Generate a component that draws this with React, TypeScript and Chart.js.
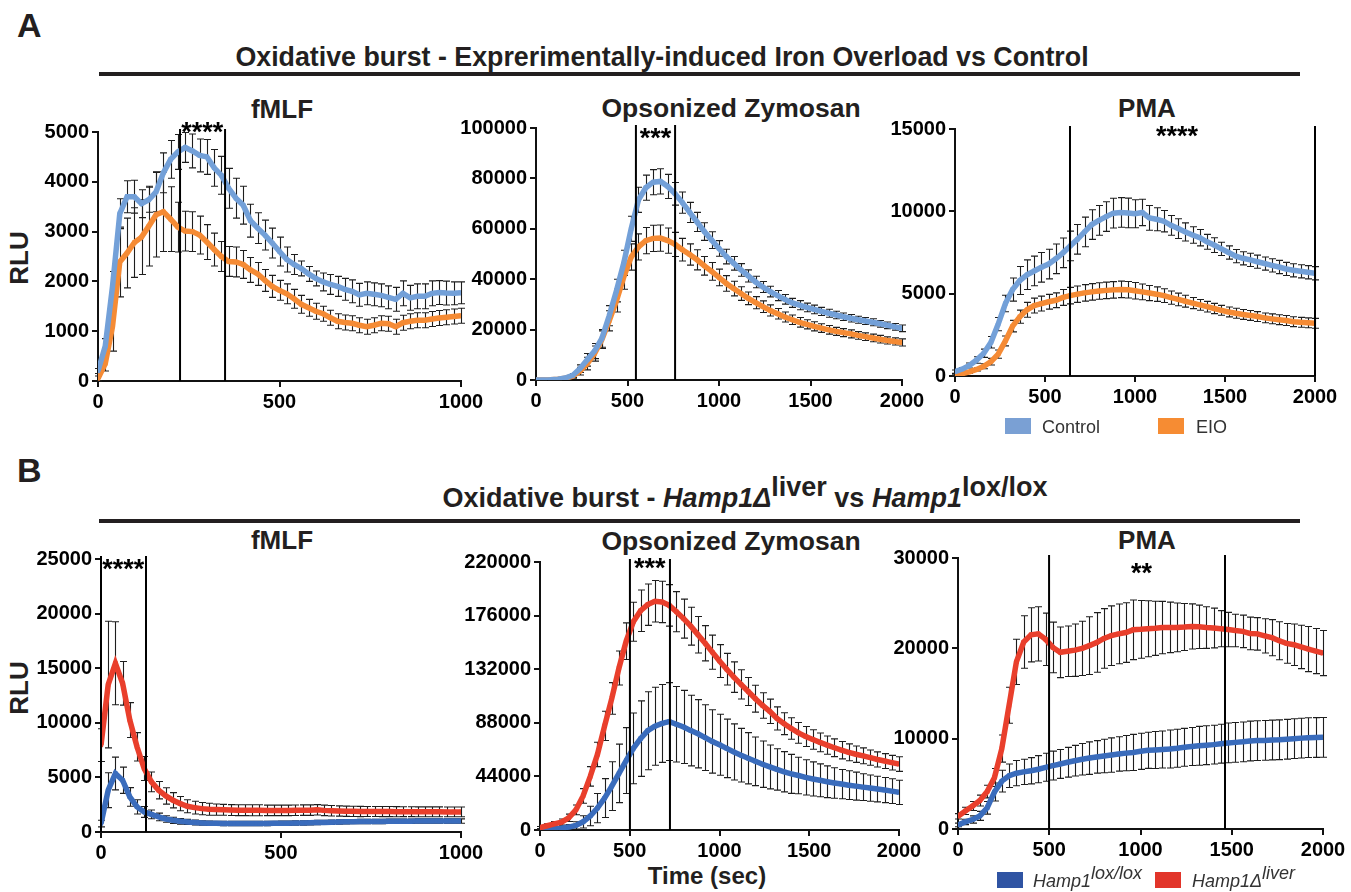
import React, { useEffect, useRef } from "react";
import { Chart, registerables } from "chart.js";

Chart.register(...registerables);

const FONT = "'Liberation Sans', Arial, Helvetica, sans-serif";
const INK = "#231f20";

// ---------- time axes (seconds) ----------
const T_1000 = [0,20,40,60,80,100,120,140,160,180,200,220,240,260,280,300,320,340,360,380,400,420,440,460,480,500,520,540,560,580,600,620,640,660,680,700,720,740,760,780,800,820,840,860,880,900,920,940,960,980,1000];
const T_2000 = [0,40,80,120,160,200,240,280,320,360,400,440,480,520,560,600,640,680,720,760,800,840,880,920,960,1000,1040,1080,1120,1160,1200,1240,1280,1320,1360,1400,1440,1480,1520,1560,1600,1640,1680,1720,1760,1800,1840,1880,1920,1960,2000];

// ---------- A: EIO vs Control ----------
const A_FMLF_CTRL = [200,700,1900,3360,3700,3700,3560,3640,3800,4180,4450,4600,4690,4620,4530,4500,4280,4130,3870,3670,3530,3220,3070,2930,2770,2600,2440,2340,2260,2150,2060,1990,1940,1900,1840,1800,1730,1760,1740,1720,1680,1640,1760,1670,1700,1700,1760,1775,1765,1760,1770];
const A_FMLF_CTRL_ERR = [50,150,300,300,320,330,280,250,400,400,380,350,300,340,330,350,370,380,400,400,380,330,310,300,300,290,250,200,150,150,150,180,200,200,220,230,230,230,230,230,230,240,250,250,250,250,250,240,240,230,220];
const A_FMLF_EIO = [50,350,1100,2390,2570,2780,2890,3110,3340,3400,3250,3090,3010,3000,2930,2790,2640,2500,2400,2390,2340,2230,2150,2020,1900,1820,1750,1650,1540,1470,1400,1350,1270,1200,1175,1160,1120,1090,1120,1160,1150,1090,1170,1200,1220,1220,1245,1265,1280,1295,1310];
const A_FMLF_EIO_ERR = [50,150,500,700,700,700,750,800,850,800,650,500,400,400,380,350,330,300,300,300,280,250,230,220,220,200,200,190,180,170,160,150,150,150,150,150,150,150,150,150,150,150,150,150,150,150,150,150,150,150,150];

const A_ZYM_CTRL = [0,0,100,300,800,1800,4500,8000,11500,16500,25500,35500,46500,60000,71500,76300,78500,78800,76800,73900,70400,66500,62700,58900,55500,52200,49000,46300,43700,41300,38900,36900,35100,33500,32000,30600,29700,28800,28000,27200,26500,25800,25100,24500,23900,23400,22900,22300,21700,21100,20500];
const A_ZYM_CTRL_ERR = [200,200,200,300,500,800,1500,2500,3000,3500,4000,4500,5000,5000,5000,5000,5000,5000,4800,4500,4200,4000,3800,3500,3300,3100,2900,2700,2500,2400,2300,2200,2100,2000,1900,1800,1800,1700,1700,1600,1600,1500,1500,1500,1400,1400,1400,1300,1300,1300,1300];
const A_ZYM_EIO = [0,0,100,300,700,1500,3500,6500,10500,16000,23500,31500,41000,48800,52800,55300,56200,56300,55300,53800,51700,49800,47700,45300,43100,40700,38300,36300,34300,32400,30700,29100,27600,26300,25000,23900,22900,22100,21300,20600,19900,19300,18800,18300,17700,17200,16700,16200,15700,15300,14900];
const A_ZYM_EIO_ERR = [200,200,200,300,500,800,1500,2500,3000,3500,4000,4500,5000,5200,5200,5200,5200,5200,5000,4800,4500,4200,4000,3700,3500,3300,3100,2900,2700,2500,2400,2300,2200,2100,2000,1900,1900,1800,1800,1700,1700,1600,1600,1600,1500,1500,1500,1500,1400,1400,1400];

const A_PMA_CTRL = [260,420,640,970,1380,2050,3150,4400,5250,5800,6150,6380,6600,6800,7120,7480,7900,8300,8750,9200,9450,9680,9890,9930,9900,9850,9930,9600,9520,9400,9150,8950,8750,8560,8400,8150,7950,7720,7500,7280,7150,7050,6940,6830,6720,6620,6500,6420,6360,6300,6240];
const A_PMA_CTRL_ERR = [100,100,150,200,250,350,400,500,700,850,900,900,900,900,900,900,900,900,900,900,900,900,900,900,900,850,800,750,700,650,600,600,550,500,500,450,450,400,400,400,400,400,400,400,400,400,400,400,400,400,400];
const A_PMA_EIO = [60,140,250,400,590,870,1330,2130,3030,3600,4020,4280,4400,4510,4600,4770,4880,4970,5050,5110,5160,5200,5230,5260,5240,5180,5110,5040,4970,4880,4760,4650,4540,4430,4320,4210,4100,3990,3890,3810,3740,3680,3610,3530,3470,3420,3370,3300,3260,3230,3200];
const A_PMA_EIO_ERR = [50,60,80,100,150,200,250,300,350,400,450,450,450,450,450,480,500,500,500,500,500,500,500,500,500,500,480,460,440,420,400,380,360,340,330,320,310,300,300,300,300,300,300,300,300,300,300,300,300,300,300];

// ---------- B: Hamp1 Δliver vs lox/lox ----------
const B_FMLF_LOX = [770,3830,5360,4740,3210,2300,1840,1620,1380,1190,1070,980,920,870,830,800,790,780,770,770,770,770,770,780,790,800,810,820,830,840,860,880,900,920,940,950,960,960,970,970,980,980,990,990,1000,1000,1000,1000,1000,1000,1000];
const B_FMLF_LOX_ERR = [300,1600,1500,1200,850,650,500,400,350,300,280,260,240,220,200,200,200,200,200,200,200,200,200,200,200,200,200,200,200,200,200,200,200,200,200,200,200,200,200,200,200,200,200,200,200,200,200,200,200,200,200];
const B_FMLF_DEL = [7960,13500,15450,13620,10250,7800,5810,4590,3830,3300,2910,2600,2360,2230,2140,2080,2050,2030,2010,2000,2000,1990,1990,1980,1980,1980,1980,1990,2000,2000,2030,1980,1950,1920,1900,1890,1880,1880,1880,1870,1870,1860,1860,1860,1850,1850,1850,1850,1840,1840,1840];
const B_FMLF_DEL_ERR = [1500,5800,3800,2000,1600,1300,1100,900,800,750,700,650,600,580,560,550,520,500,500,500,500,500,500,480,480,480,480,480,480,480,480,480,480,470,470,470,470,460,460,460,460,460,450,450,450,450,450,450,450,450,450];

const B_ZYM_LOX = [500,700,1000,1500,2400,3800,6700,11500,18000,26200,36000,46500,57000,67000,75000,81500,85200,87500,89000,86800,84600,81600,79000,75800,72700,70000,67000,64100,61400,58900,56400,54000,51800,49700,47800,46100,44700,43200,41900,40800,39600,38600,37700,36800,36000,35200,34400,33600,32800,31900,30900];
const B_ZYM_LOX_ERR = [500,700,1000,1500,2000,3000,5000,8000,12000,16000,20000,24000,27000,29000,31000,32000,32000,32000,32000,31000,30000,29000,28000,27000,26000,25000,24000,23000,22000,21000,20000,19000,18000,17000,16500,16000,15000,14500,14000,13500,13000,12500,12000,11800,11500,11000,10800,10500,10300,10200,10000];
const B_ZYM_DEL = [1900,3500,5000,6500,10000,16500,28000,44000,62000,85500,108000,133000,155000,171000,180000,185000,187800,187200,184400,179200,173500,167300,160300,153300,146000,138700,132000,125500,119500,113700,107800,102200,97400,91600,87300,83300,79700,76800,74300,71900,69700,67500,65500,63800,62200,60900,59400,57900,56600,55300,54100];
const B_ZYM_DEL_ERR = [1000,1500,2000,2500,3000,4000,6000,8000,10000,12000,13000,14000,15000,16000,17000,17000,17000,17000,17000,16500,16000,15500,15000,14500,14000,13500,13000,12500,12000,11500,11000,10500,10000,9500,9000,8800,8500,8200,8000,7700,7500,7300,7100,6900,6700,6500,6300,6200,6100,6000,6000];

const B_PMA_LOX = [450,780,1050,1450,2350,4100,5300,5900,6180,6320,6450,6620,6830,7020,7200,7390,7560,7720,7850,7980,8080,8190,8310,8400,8480,8600,8710,8750,8800,8860,8940,9040,9130,9210,9280,9340,9440,9530,9590,9650,9740,9790,9810,9850,9880,9940,10000,10060,10110,10130,10150];
const B_PMA_LOX_ERR = [200,300,400,500,700,1000,1200,1300,1400,1400,1450,1500,1550,1600,1600,1650,1700,1750,1800,1800,1850,1900,1900,1950,2000,2000,2000,2050,2050,2100,2100,2100,2100,2150,2150,2150,2150,2200,2200,2200,2200,2200,2200,2200,2200,2200,2200,2200,2200,2200,2200];
const B_PMA_DEL = [1400,2000,2550,3150,4150,5700,8900,13700,18500,20700,21500,21600,21000,20100,19560,19680,19800,20000,20300,20650,21100,21400,21600,21750,22050,22100,22170,22220,22300,22320,22320,22360,22420,22380,22300,22250,22170,22080,21970,21880,21650,21600,21380,21180,20840,20550,20400,20150,19920,19700,19480];
const B_PMA_DEL_ERR = [300,400,500,600,700,1000,1500,2000,2500,2900,3000,3000,2900,2800,2800,2800,2900,3000,3200,3300,3300,3300,3300,3300,3300,3200,3100,3000,2900,2800,2700,2600,2500,2400,2300,2200,2000,1900,1800,1800,1800,1800,1900,2000,2100,2200,2300,2400,2500,2500,2500];

// significance windows (seconds)
const SIG_A_FMLF = [226, 350];
const SIG_A_ZYM = [546, 760];
const SIG_A_PMA = [639, 2000];
const SIG_B_FMLF = [0, 125];
const SIG_B_ZYM = [501, 724];
const SIG_B_PMA = [499, 1463];

const C_CTRL = "#73a0d8";
const C_EIO = "#f58b35";
const C_LOX = "#3a6cbc";
const C_DEL = "#e93f2c";

type Series = { label: string; color: string; values: number[]; errors: number[] };
type PanelDef = {
  key: string;
  area: { l: number; t: number; r: number; b: number };
  times: number[];
  xMax: number; xStep: number; yMax: number; yStep: number;
  series: Series[];
  sig: number[]; stars: string; starX: number; starDy: number;
};

const PANELS: PanelDef[] = [
  { key: "a1", area: { l: 98, t: 132, r: 461, b: 381 }, times: T_1000, xMax: 1000, xStep: 500, yMax: 5000, yStep: 1000,
    series: [
      { label: "Control", color: C_CTRL, values: A_FMLF_CTRL, errors: A_FMLF_CTRL_ERR },
      { label: "EIO", color: C_EIO, values: A_FMLF_EIO, errors: A_FMLF_EIO_ERR },
    ], sig: SIG_A_FMLF, stars: "****", starX: 287, starDy: -6 },
  { key: "a2", area: { l: 536, t: 128, r: 902, b: 380 }, times: T_2000, xMax: 2000, xStep: 500, yMax: 100000, yStep: 20000,
    series: [
      { label: "Control", color: C_CTRL, values: A_ZYM_CTRL, errors: A_ZYM_CTRL_ERR },
      { label: "EIO", color: C_EIO, values: A_ZYM_EIO, errors: A_ZYM_EIO_ERR },
    ], sig: SIG_A_ZYM, stars: "***", starX: 653, starDy: 4 },
  { key: "a3", area: { l: 955, t: 129, r: 1315, b: 376 }, times: T_2000, xMax: 2000, xStep: 500, yMax: 15000, yStep: 5000,
    series: [
      { label: "Control", color: C_CTRL, values: A_PMA_CTRL, errors: A_PMA_CTRL_ERR },
      { label: "EIO", color: C_EIO, values: A_PMA_EIO, errors: A_PMA_EIO_ERR },
    ], sig: SIG_A_PMA, stars: "****", starX: 1233, starDy: 1 },
  { key: "b1", area: { l: 101, t: 559, r: 461, b: 832 }, times: T_1000, xMax: 1000, xStep: 500, yMax: 25000, yStep: 5000,
    series: [
      { label: "Hamp1Δliver", color: C_DEL, values: B_FMLF_DEL, errors: B_FMLF_DEL_ERR },
      { label: "Hamp1lox/lox", color: C_LOX, values: B_FMLF_LOX, errors: B_FMLF_LOX_ERR },
    ], sig: SIG_B_FMLF, stars: "****", starX: 62, starDy: 4 },
  { key: "b2", area: { l: 540, t: 562, r: 899, b: 830 }, times: T_2000, xMax: 2000, xStep: 500, yMax: 220000, yStep: 44000,
    series: [
      { label: "Hamp1Δliver", color: C_DEL, values: B_ZYM_DEL, errors: B_ZYM_DEL_ERR },
      { label: "Hamp1lox/lox", color: C_LOX, values: B_ZYM_LOX, errors: B_ZYM_LOX_ERR },
    ], sig: SIG_B_ZYM, stars: "***", starX: 612, starDy: 0 },
  { key: "b3", area: { l: 958, t: 558, r: 1323, b: 829 }, times: T_2000, xMax: 2000, xStep: 500, yMax: 30000, yStep: 10000,
    series: [
      { label: "Hamp1Δliver", color: C_DEL, values: B_PMA_DEL, errors: B_PMA_DEL_ERR },
      { label: "Hamp1lox/lox", color: C_LOX, values: B_PMA_LOX, errors: B_PMA_LOX_ERR },
    ], sig: SIG_B_PMA, stars: "**", starX: 1005, starDy: 9 },
];

const errorBarPlugin = {
  id: "errorBars",
  beforeDatasetsDraw(chart: any) {
    const { ctx } = chart;
    const xs = chart.scales.x, ys = chart.scales.y;
    chart.data.datasets.forEach((ds: any) => {
      const err: number[] = ds.errors;
      if (!err) return;
      ctx.save();
      ctx.strokeStyle = "#1e1e1e";
      ctx.lineWidth = 1.1;
      ds.data.forEach((p: any, i: number) => {
        const px = Math.round(xs.getPixelForValue(p.x)) + 0.5;
        const yt = ys.getPixelForValue(p.y + err[i]);
        const yb = ys.getPixelForValue(Math.max(0, p.y - err[i]));
        ctx.beginPath();
        ctx.moveTo(px, yt); ctx.lineTo(px, yb);
        ctx.moveTo(px - 3.5, yt); ctx.lineTo(px + 3.5, yt);
        ctx.moveTo(px - 3.5, yb); ctx.lineTo(px + 3.5, yb);
        ctx.stroke();
      });
      ctx.restore();
    });
  },
};

const sigPlugin = {
  id: "sigMarks",
  afterDatasetsDraw(chart: any, _args: any, opts: any) {
    const { ctx, chartArea } = chart;
    const xs = chart.scales.x;
    ctx.save();
    ctx.strokeStyle = "#000";
    ctx.lineWidth = 2;
    (opts.lines || []).forEach((v: number) => {
      const px = xs.getPixelForValue(v);
      ctx.beginPath();
      ctx.moveTo(px, chartArea.top - 3);
      ctx.lineTo(px, chartArea.bottom);
      ctx.stroke();
    });
    const sx = xs.getPixelForValue(opts.starX);
    ctx.fillStyle = "#000";
    ctx.font = `bold 27px ${FONT}`;
    ctx.textAlign = "center";
    ctx.textBaseline = "alphabetic";
    ctx.fillText(opts.stars, sx, chartArea.top + opts.starDy + 15);
    ctx.restore();
  },
};

const PADL = 100, PADT = 40, PADR = 40, PADB = 45;

function PanelChart({ p }: { p: PanelDef }) {
  const ref = useRef<HTMLCanvasElement>(null);
  const w = p.area.r - p.area.l + PADL + PADR;
  const h = p.area.b - p.area.t + PADT + PADB;
  useEffect(() => {
    const tickFont = { family: FONT, size: 20, weight: "bold" as const };
    const axisCommon = (max: number, step: number) => ({
      type: "linear" as const,
      min: 0,
      max,
      ticks: {
        stepSize: step,
        autoSkip: false,
        maxRotation: 0,
        font: tickFont,
        color: "#000",
        padding: 3,
        callback: (v: any) => String(v),
      },
      grid: { display: true, drawOnChartArea: false, drawTicks: true, tickLength: 6, color: "#111", lineWidth: 2 },
      border: { display: true, color: "#111", width: 2 },
    });
    const chart = new Chart(ref.current as HTMLCanvasElement, {
      type: "line",
      data: {
        datasets: p.series.map((s) => ({
          label: s.label,
          data: p.times.map((t, i) => ({ x: t, y: s.values[i] })),
          errors: s.errors,
          borderColor: s.color,
          backgroundColor: s.color,
          borderWidth: 5.5,
          pointStyle: "rect",
          pointRadius: 3,
          pointBorderWidth: 0,
          tension: 0,
          fill: false,
        })) as any,
      },
      options: {
        responsive: false,
        animation: false,
        layout: { padding: { left: 0, top: PADT, right: PADR, bottom: 0 } },
        plugins: {
          legend: { display: false },
          tooltip: { enabled: false },
          sigMarks: { lines: p.sig, stars: p.stars, starX: p.starX, starDy: p.starDy },
        } as any,
        scales: {
          x: { ...axisCommon(p.xMax, p.xStep), afterFit: (s: any) => { s.height = PADB; } },
          y: { ...axisCommon(p.yMax, p.yStep), afterFit: (s: any) => { s.width = PADL; } },
        } as any,
      },
      plugins: [errorBarPlugin, sigPlugin],
    });
    return () => chart.destroy();
  }, []);
  return (
    <canvas
      ref={ref}
      width={w}
      height={h}
      style={{ position: "absolute", left: p.area.l - PADL, top: p.area.t - PADT, width: w, height: h }}
    />
  );
}

function Txt(props: {
  x: number; base: number; size: number; bold?: boolean; italic?: boolean;
  align?: "left" | "center"; color?: string; children: React.ReactNode;
}) {
  const { x, base, size, bold, italic, align = "left", color = INK, children } = props;
  return (
    <div
      style={{
        position: "absolute",
        left: x,
        top: base - 0.8465 * size,
        fontFamily: FONT,
        fontSize: size,
        lineHeight: 1,
        fontWeight: bold ? "bold" : "normal",
        fontStyle: italic ? "italic" : "normal",
        color,
        whiteSpace: "nowrap",
        transform: align === "center" ? "translateX(-50%)" : undefined,
      }}
    >
      {children}
    </div>
  );
}

const sup: React.CSSProperties = { position: "relative", top: "-0.42em" };

function Rotated({ cx, cy, size, text }: { cx: number; cy: number; size: number; text: string }) {
  return (
    <div
      style={{
        position: "absolute", left: cx, top: cy, fontFamily: FONT, fontSize: size, fontWeight: "bold",
        lineHeight: 1, color: INK, whiteSpace: "nowrap", transform: "translate(-50%, -50%) rotate(-90deg)",
      }}
    >
      {text}
    </div>
  );
}

function Box({ x, y, color }: { x: number; y: number; color: string }) {
  return <div style={{ position: "absolute", left: x, top: y, width: 26, height: 16, background: color }} />;
}

export default function App() {
  return (
    <div style={{ position: "absolute", left: 0, top: 0, width: 1351, height: 892, background: "#fff", overflow: "hidden" }}>
      {/* Panel letters */}
      <Txt x={17} base={37} size={34} bold>A</Txt>
      <Txt x={17} base={482} size={34} bold>B</Txt>

      {/* Section headings */}
      <Txt x={662} base={67} size={26.8} bold align="center">
        Oxidative burst - Exprerimentally-induced Iron Overload vs Control
      </Txt>
      <div style={{ position: "absolute", left: 99, top: 72, width: 1201, height: 4, background: INK }} />
      <Txt x={745} base={508} size={27} bold align="center">
        Oxidative burst - <i>Hamp1Δ</i><span style={sup}>liver</span> vs <i>Hamp1</i><span style={sup}>lox/lox</span>
      </Txt>
      <div style={{ position: "absolute", left: 99, top: 519, width: 1201, height: 4, background: INK }} />

      {/* Panel titles */}
      <Txt x={282} base={118} size={26} bold align="center">fMLF</Txt>
      <Txt x={731} base={117} size={26.5} bold align="center">Opsonized Zymosan</Txt>
      <Txt x={1147} base={117} size={26} bold align="center">PMA</Txt>
      <Txt x={282} base={549} size={26} bold align="center">fMLF</Txt>
      <Txt x={731} base={550} size={26.5} bold align="center">Opsonized Zymosan</Txt>
      <Txt x={1147} base={549} size={26} bold align="center">PMA</Txt>

      {/* Axis titles */}
      <Rotated cx={19} cy={258} size={26} text="RLU" />
      <Rotated cx={19} cy={688} size={26} text="RLU" />
      <Txt x={707} base={884} size={24} bold align="center">Time (sec)</Txt>

      {PANELS.map((p) => (
        <PanelChart key={p.key} p={p} />
      ))}

      {/* Legend A */}
      <Box x={1005} y={418} color="#7aa0d4" />
      <Txt x={1042} base={433} size={18} color="#333">Control</Txt>
      <Box x={1158} y={418} color="#f68c33" />
      <Txt x={1196} base={433} size={18} color="#333">EIO</Txt>

      {/* Legend B */}
      <Box x={997} y={872} color="#2f54a3" />
      <Txt x={1033} base={887} size={18} italic color="#333">
        Hamp1<span style={sup}>lox/lox</span>
      </Txt>
      <Box x={1155} y={872} color="#e2352a" />
      <Txt x={1192} base={887} size={18} italic color="#333">
        Hamp1Δ<span style={sup}>liver</span>
      </Txt>
    </div>
  );
}
